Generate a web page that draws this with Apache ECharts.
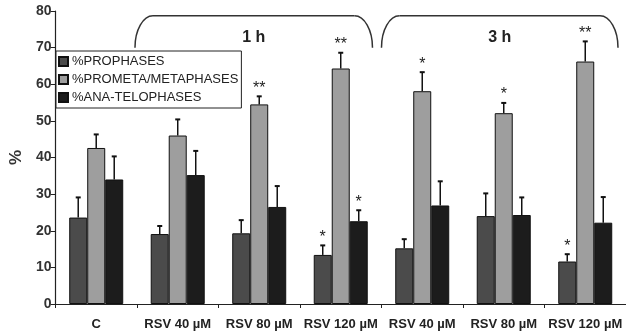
<!DOCTYPE html>
<html>
<head>
<meta charset="utf-8">
<script src="https://cdn.jsdelivr.net/npm/echarts@6/dist/echarts.min.js"></script>
<style>
  html, body { margin: 0; padding: 0; background: #fff; }
  #main { width: 626px; height: 334px; }
</style>
</head>
<body>
<div id="main"></div>
<script>
var FONT = '"Liberation Sans", Arial, sans-serif';

// categories (first is control, then 1 h and 3 h groups)
var categories = ['C', 'RSV 40 µM', 'RSV 80 µM', 'RSV 120 µM', 'RSV 40 µM', 'RSV 80 µM', 'RSV 120 µM'];
var seriesNames = ['%PROPHASES', '%PROMETA/METAPHASES', '%ANA-TELOPHASES'];

// mean values
var prophases = [23.6, 19.1, 19.3, 13.4, 15.2, 24.0, 11.6];
var prometa = [42.6, 46.0, 54.5, 64.3, 58.1, 52.1, 66.2];
var anaTelo = [34.0, 35.2, 26.5, 22.6, 26.9, 24.3, 22.2];

// upper error bars (SD)
var prophasesSd = [5.5, 2.2, 3.6, 2.6, 2.5, 6.2, 2.0];
var prometaSd = [3.7, 4.4, 2.2, 4.3, 5.2, 2.8, 5.5];
var anaTeloSd = [6.3, 6.6, 5.7, 3.0, 6.6, 4.8, 7.0];

// significance marks
var prophasesSig = ['', '', '', '*', '', '', '*'];
var prometaSig = ['', '', '**', '**', '*', '*', '**'];
var anaTeloSig = ['', '', '', '*', '', '', ''];

var yTicks = [0, 80, 10]; // min, max, interval

var colors = ['#4b4b4b', '#9e9e9e', '#1c1c1c'];
var barW = 18;

var means = [prophases, prometa, anaTelo];
var sds = [prophasesSd, prometaSd, anaTeloSd];
var sigs = [prophasesSig, prometaSig, anaTeloSig];

function errSeries(k) {
  var data = means[k].map(function (v, i) { return [i, v, sds[k][i], sigs[k][i]]; });
  return {
    type: 'custom',
    name: seriesNames[k] + ' err',
    z: 5,
    silent: true,
    data: data,
    encode: { x: 0, y: 1 },
    renderItem: function (params, api) {
      var i = api.value(0);
      var v = api.value(1);
      var sd = api.value(2);
      var sig = data[params.dataIndex][3];
      var p0 = api.coord([i, v]);
      var p1 = api.coord([i, v + sd]);
      var x = p0[0] + (k - 1) * barW;
      var kids = [
        { type: 'line', shape: { x1: x, y1: p0[1], x2: x, y2: p1[1] }, style: { stroke: '#111', lineWidth: 1.5 } },
        { type: 'line', shape: { x1: x - 2.5, y1: p1[1], x2: x + 2.5, y2: p1[1] }, style: { stroke: '#111', lineWidth: 2 } }
      ];
      if (sig) {
        kids.push({
          type: 'text',
          x: x, y: p1[1] - 8,
          style: { text: sig, fontSize: 16, fontFamily: FONT, fill: '#222', align: 'center', verticalAlign: 'middle' }
        });
      }
      return { type: 'group', children: kids };
    }
  };
}

var option = {
  backgroundColor: '#fff',
  animation: false,
  grid: { left: 53, right: 0, top: 11, bottom: 30 },
  legend: {
    orient: 'vertical',
    left: 56, top: 51,
    data: seriesNames,
    backgroundColor: '#fff',
    borderColor: '#222',
    borderWidth: 1,
    padding: [4, 3, 4, 2],
    itemGap: 5,
    itemWidth: 9,
    itemHeight: 9,
    icon: 'rect',
    textStyle: { fontFamily: FONT, fontSize: 13, color: '#222', padding: [0, 0, 0, -1] }
  },
  xAxis: {
    type: 'category',
    data: categories,
    axisLine: { lineStyle: { color: '#222', width: 1.2 } },
    axisTick: { show: true, length: 4, lineStyle: { color: '#222' } },
    axisLabel: { fontFamily: FONT, fontSize: 13, fontWeight: 'bold', color: '#222', margin: 14, interval: 0 }
  },
  yAxis: {
    type: 'value',
    min: yTicks[0], max: yTicks[1], interval: yTicks[2],
    name: '%',
    nameLocation: 'middle',
    nameGap: 21,
    nameTextStyle: { fontFamily: FONT, fontSize: 17, fontWeight: 'bold', color: '#333' },
    axisLine: { show: true, lineStyle: { color: '#222', width: 1.2 } },
    axisTick: { show: true, length: 5, lineStyle: { color: '#222' } },
    axisLabel: { fontFamily: FONT, fontSize: 14, fontWeight: 'bold', color: '#333', margin: 4 },
    splitLine: { show: false }
  },
  series: [0, 1, 2].map(function (k) {
    return {
      type: 'bar',
      name: seriesNames[k],
      data: means[k],
      barWidth: barW,
      barGap: '0%',
      itemStyle: { color: colors[k], borderColor: '#111', borderWidth: 1 }
    };
  }).concat([0, 1, 2].map(errSeries))
};

var chart = echarts.init(document.getElementById('main'));
chart.setOption(option);

// time-point brackets over the treatment groups
function px(i, v) { return chart.convertToPixel({ gridIndex: 0 }, [i, v]); }
var band = px(1, 0)[0] - px(0, 0)[0];
var yTop = px(0, 78.7)[1];
var yBot = px(0, 70)[1];
var yLab = px(0, 72.8)[1];
function bracket(i0, i1, padL, padR, label) {
  var x1 = px(i0, 0)[0] - band / 2 + padL;
  var x2 = px(i1, 0)[0] + band / 2 - padR;
  var r = 18, h = yBot - yTop, c = 0.552;
  var line = { stroke: '#333', lineWidth: 1.5, fill: 'none' };
  return [
    { type: 'bezierCurve', shape: { x1: x1, y1: yBot, cpx1: x1, cpy1: yBot - c * h, cpx2: x1 + r - c * r, cpy2: yTop, x2: x1 + r, y2: yTop }, style: line },
    { type: 'line', shape: { x1: x1 + r, y1: yTop, x2: x2 - r, y2: yTop }, style: line },
    { type: 'bezierCurve', shape: { x1: x2 - r, y1: yTop, cpx1: x2 - r + c * r, cpy1: yTop, cpx2: x2, cpy2: yBot - c * h, x2: x2, y2: yBot }, style: line },
    {
      type: 'text',
      x: (x1 + x2) / 2, y: yLab,
      style: { text: label, fontFamily: FONT, fontSize: 16, fontWeight: 'bold', fill: '#222', align: 'center', verticalAlign: 'middle' }
    }
  ];
}
chart.setOption({ graphic: bracket(1, 3, -2, 9, '1 h').concat(bracket(4, 6, 0, 8, '3 h')) });
</script>
</body>
</html>
